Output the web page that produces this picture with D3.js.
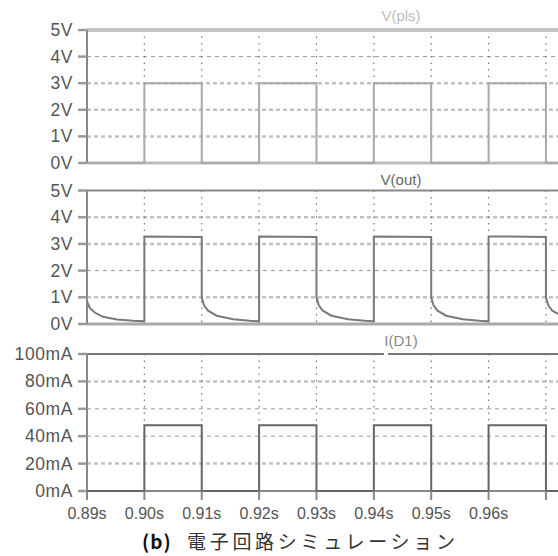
<!DOCTYPE html>
<html>
<head>
<meta charset="utf-8">
<script src="https://cdn.jsdelivr.net/npm/d3@7"></script>
<style>
  body { margin: 0; background: #fff; }
  svg { display: block; }
</style>
</head>
<body>
<div id="grafico"></div>
<script>
// Eixo do tempo (s)
const tempoTicks = [0.89, 0.90, 0.91, 0.92, 0.93, 0.94, 0.95, 0.96, 0.97];
const tempoLabels = ["0.89s", "0.90s", "0.91s", "0.92s", "0.93s", "0.94s", "0.95s", "0.96s"];
const tempoFim = 0.9721;

// Eixos Y
const voltTicks = [0, 1, 2, 3, 4, 5];
const voltLabels = ["0V", "1V", "2V", "3V", "4V", "5V"];
const ampTicks = [0, 20, 40, 60, 80, 100];
const ampLabels = ["0mA", "20mA", "40mA", "60mA", "80mA", "100mA"];

const titulos = ["V(pls)", "V(out)", "I(D1)"];

// V(pls) - pulso
const plsT = [0.89, 0.90, 0.90, 0.91, 0.91, 0.92, 0.92, 0.93, 0.93, 0.94, 0.94, 0.95, 0.95, 0.96, 0.96, 0.97, 0.97, 0.9721];
const plsV = [0, 0, 3, 3, 0, 0, 3, 3, 0, 0, 3, 3, 0, 0, 3, 3, 0, 0];

// V(out)
const outT = [
  0.8900, 0.8905, 0.8914, 0.8928, 0.8952, 0.8981, 0.9000,
  0.9000, 0.9100,
  0.9100, 0.9104, 0.9111, 0.9126, 0.9155, 0.9184, 0.9200,
  0.9200, 0.9300,
  0.9300, 0.9304, 0.9311, 0.9326, 0.9355, 0.9384, 0.9400,
  0.9400, 0.9500,
  0.9500, 0.9504, 0.9511, 0.9526, 0.9555, 0.9584, 0.9600,
  0.9600, 0.9700,
  0.9700, 0.9704, 0.9711, 0.9721
];
const outV = [
  0.85, 0.59, 0.42, 0.27, 0.17, 0.12, 0.10,
  3.28, 3.26,
  1.00, 0.70, 0.50, 0.31, 0.18, 0.12, 0.10,
  3.28, 3.26,
  1.00, 0.70, 0.50, 0.31, 0.18, 0.12, 0.10,
  3.28, 3.26,
  1.00, 0.70, 0.50, 0.31, 0.18, 0.12, 0.10,
  3.28, 3.26,
  1.00, 0.70, 0.50, 0.38
];

// I(D1) em mA
const d1T = [0.89, 0.90, 0.90, 0.91, 0.91, 0.92, 0.92, 0.93, 0.93, 0.94, 0.94, 0.95, 0.95, 0.96, 0.96, 0.97, 0.97, 0.9721];
const d1V = [0, 0, 48, 48, 0, 0, 48, 48, 0, 0, 48, 48, 0, 0, 48, 48, 0, 0];

const width = 558, height = 556;

const svg = d3.select("#grafico")
  .append("svg")
  .attr("width", width)
  .attr("height", height);

const x = d3.scaleLinear()
  .domain([0.89, tempoFim])
  .range([87, 558]);

// Paineis (posicoes e estilos)
const paineis = [
  { topo: 30, base: 163, ticks: voltTicks, labels: voltLabels, max: 5, t: plsT, v: plsV,
    cor: "#aaa", topoCor: "#c4c4c4", topoW: 4, baseCor: "#bbb", baseW: 3, grossas: [1, 2, 3], tituloCor: "#bdbdbd" },
  { topo: 190.5, base: 324, ticks: voltTicks, labels: voltLabels, max: 5, t: outT, v: outV,
    cor: "#7a7a7a", topoCor: "#888", topoW: 2, baseCor: "#aaa", baseW: 3, grossas: [1, 3, 4], tituloCor: "#666" },
  { topo: 354, base: 491, ticks: ampTicks, labels: ampLabels, max: 100, t: d1T, v: d1V,
    cor: "#666", topoCor: "#777", topoW: 2, baseCor: "#888", baseW: 2, grossas: [20, 80], tituloCor: "#888" }
];

paineis.forEach((p, i) => {
  const y = d3.scaleLinear().domain([0, p.max]).range([p.base, p.topo]);
  const g = svg.append("g");

  // Grade horizontal tracejada
  p.ticks.filter(d => d > 0 && d < p.max).forEach(d => {
    const grossa = p.grossas.includes(d);
    g.append("line")
      .attr("x1", 87).attr("x2", width)
      .attr("y1", y(d)).attr("y2", y(d))
      .attr("stroke", grossa ? "#c2c2c2" : "#999")
      .attr("stroke-width", grossa ? 2.5 : 1)
      .attr("stroke-dasharray", grossa ? "4,3" : "4,4");
  });

  // Grade vertical pontilhada
  tempoTicks.slice(1).forEach(t => {
    g.append("line")
      .attr("x1", x(t)).attr("x2", x(t))
      .attr("y1", p.topo).attr("y2", p.base)
      .attr("stroke", "#777")
      .attr("stroke-width", 1.2)
      .attr("stroke-dasharray", "1.5,5");
  });

  // Bordas
  g.append("line")
    .attr("x1", 87).attr("x2", width)
    .attr("y1", p.topo).attr("y2", p.topo)
    .attr("stroke", p.topoCor).attr("stroke-width", p.topoW);
  g.append("line")
    .attr("x1", 87).attr("x2", width)
    .attr("y1", p.base).attr("y2", p.base)
    .attr("stroke", p.baseCor).attr("stroke-width", p.baseW);
  g.append("line")
    .attr("x1", 87).attr("x2", 87)
    .attr("y1", p.topo).attr("y2", i === 2 ? 500 : p.base)
    .attr("stroke", "#888").attr("stroke-width", 2);

  // Marcas e rotulos do eixo Y
  p.ticks.forEach((d, k) => {
    g.append("line")
      .attr("x1", 78).attr("x2", 87)
      .attr("y1", y(d)).attr("y2", y(d))
      .attr("stroke", "#999").attr("stroke-width", 2.5);
    g.append("text")
      .attr("x", 73).attr("y", y(d))
      .attr("text-anchor", "end")
      .attr("dominant-baseline", "central")
      .attr("font-family", "Liberation Sans, Arial, sans-serif")
      .attr("font-size", 17.5)
      .attr("letter-spacing", 0.6)
      .attr("fill", "#555")
      .text(p.labels[k]);
  });

  // Sinal
  const pontos = p.t.map((t, k) => ({ t: t, v: p.v[k] }));
  const linha = d3.line().x(d => x(d.t)).y(d => y(d.v));
  g.append("path")
    .datum(pontos)
    .attr("fill", "none")
    .attr("stroke", p.cor)
    .attr("stroke-width", 2)
    .attr("d", linha);

  // Titulo
  const tituloY = [15, 179, 340][i];
  if (i === 2) {
    g.append("rect").attr("x", 384).attr("y", p.topo - 3).attr("width", 4).attr("height", 6).attr("fill", "#fff");
  }
  g.append("text")
    .attr("x", 401).attr("y", tituloY)
    .attr("text-anchor", "middle")
    .attr("dominant-baseline", "central")
    .attr("font-family", "Liberation Sans, Arial, sans-serif")
    .attr("font-size", 15)
    .attr("fill", p.tituloCor)
    .text(titulos[i]);
});

// Marcas do eixo X no painel de baixo
tempoTicks.slice(1).forEach(t => {
  svg.append("line")
    .attr("x1", x(t)).attr("x2", x(t))
    .attr("y1", 491).attr("y2", 500)
    .attr("stroke", "#888").attr("stroke-width", 2);
});

// Rotulos do tempo
svg.append("g").selectAll("text")
  .data(tempoLabels)
  .join("text")
  .attr("x", (d, k) => x(tempoTicks[k]))
  .attr("y", 513)
  .attr("text-anchor", "middle")
  .attr("dominant-baseline", "central")
  .attr("font-family", "Liberation Sans, Arial, sans-serif")
  .attr("font-size", 16)
  .attr("fill", "#555")
  .text(d => d);

// Legenda da figura
const legenda = svg.append("text")
  .attr("y", 540)
  .attr("dominant-baseline", "central")
  .attr("font-family", "Noto Sans CJK JP, sans-serif")
  .attr("font-size", 19);
legenda.append("tspan")
  .attr("x", 142)
  .attr("font-weight", "bold")
  .attr("fill", "#111")
  .attr("letter-spacing", 1)
  .text("(b)");
legenda.append("tspan")
  .attr("x", 187)
  .attr("fill", "#333")
  .attr("letter-spacing", 3.7)
  .text("電子回路シミュレーション");
</script>
</body>
</html>
